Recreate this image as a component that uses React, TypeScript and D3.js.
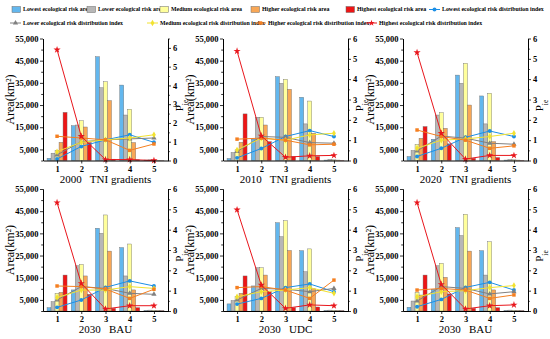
import React, { useEffect, useRef } from 'react';
import * as d3 from 'd3';

const FONT = '"Liberation Serif", "Times New Roman", serif';

// TNI gradients on x
const gradients = [1, 2, 3, 4, 5];
const riskLevels = ['Lowest', 'Lower', 'Medium', 'Higher', 'Highest'];
const barColors = ['#63b7ee', '#b7b7b7', '#ffff9c', '#f8a756', '#ee1515'];
const lineColors = ['#1c8fe6', '#808080', '#f2e230', '#f57f20', '#e8161c'];
const areaTicks = [5000, 15000, 25000, 35000, 45000, 55000];
const areaMinorTicks = [0, 10000, 20000, 30000, 40000, 50000];

// area (km2), one row per risk level, one column per gradient
const area2000 = [
  [1000, 15700, 46800, 34000, 200],
  [3300, 16000, 32800, 20500, 300],
  [4500, 18000, 35500, 23100, 200],
  [8200, 15100, 27000, 8100, 100],
  [21700, 8100, 600, 300, 50],
];
const index2000 = [
  [0.08, 0.75, 1.1, 1.37, 0.97],
  [0.3, 1.0, 1.1, 1.15, 1.2],
  [0.47, 0.97, 1.1, 1.2, 1.37],
  [1.29, 1.2, 1.1, 0.54, 0.88],
  [5.9, 1.29, 0.05, 0.05, 0.0],
];

const area2010 = [
  [900, 9600, 37800, 28500, 200],
  [3600, 19500, 34800, 16500, 500],
  [4800, 19500, 36600, 26800, 300],
  [8200, 16000, 32100, 12300, 200],
  [21000, 8500, 1800, 1800, 100],
];
const index2010 = [
  [0.13, 0.59, 1.18, 1.47, 1.18],
  [0.44, 1.18, 1.14, 0.88, 0.85],
  [0.52, 1.1, 1.0, 1.26, 1.34],
  [1.05, 1.1, 1.0, 0.77, 0.8],
  [5.38, 1.21, 0.16, 0.23, 0.25],
];

const area2020 = [
  [1800, 9600, 38500, 29100, 200],
  [4500, 20500, 34800, 16500, 400],
  [7300, 21600, 43800, 30300, 300],
  [10000, 14500, 25000, 8500, 200],
  [15300, 7500, 1000, 1350, 100],
];
const index2020 = [
  [0.2, 0.6, 1.14, 1.45, 1.18],
  [0.47, 1.2, 1.1, 0.85, 0.8],
  [0.6, 1.0, 1.06, 1.18, 1.34],
  [1.5, 1.18, 1.0, 0.6, 0.72],
  [5.31, 1.34, 0.07, 0.25, 0.25],
];

const area2030BAU = [
  [1500, 9500, 37300, 28600, 200],
  [4200, 20400, 35000, 15800, 400],
  [8000, 21000, 43300, 30200, 300],
  [8400, 15800, 27000, 9500, 200],
  [16200, 7500, 1200, 1500, 100],
];
const index2030BAU = [
  [0.18, 0.54, 1.16, 1.48, 1.23],
  [0.54, 1.2, 1.11, 0.87, 0.82],
  [0.66, 1.03, 1.03, 1.2, 1.11],
  [1.23, 1.2, 1.08, 0.62, 1.07],
  [5.33, 1.36, 0.1, 0.26, 0.26],
];

const area2030UDC = [
  [3200, 11300, 39800, 27200, 200],
  [4700, 19500, 33500, 17700, 400],
  [6500, 19500, 40700, 28000, 300],
  [8000, 16200, 27300, 10000, 200],
  [15800, 8700, 1500, 1800, 100],
];
const index2030UDC = [
  [0.34, 0.62, 1.15, 1.33, 0.95],
  [0.54, 1.11, 1.07, 0.95, 1.11],
  [0.7, 0.95, 1.03, 1.15, 0.87],
  [1.15, 1.2, 1.03, 0.62, 1.52],
  [4.98, 1.28, 0.13, 0.3, 0.26],
];

const area2030BAU2 = [
  [1700, 9800, 37600, 27200, 200],
  [4500, 20400, 34000, 16200, 400],
  [8400, 21500, 43600, 31200, 300],
  [7200, 15200, 27000, 9500, 200],
  [16200, 7700, 1200, 1500, 100],
];
const index2030BAU2 = [
  [0.21, 0.57, 1.16, 1.41, 1.03],
  [0.49, 1.2, 1.11, 0.84, 0.95],
  [0.7, 0.95, 1.0, 1.15, 1.25],
  [1.03, 1.11, 1.03, 0.62, 0.79],
  [5.33, 1.31, 0.1, 0.26, 0.3],
];

const panelTitles = ['2000   TNI gradients', '2010   TNI gradients', '2020   TNI gradients', '2030   BAU', '2030   UDC', '2030   BAU'];
const panelAreas = [area2000, area2010, area2020, area2030BAU, area2030UDC, area2030BAU2];
const panelIndexes = [index2000, index2010, index2020, index2030BAU, index2030UDC, index2030BAU2];
const panelPMax = [6.5, 6, 6, 6, 6, 6];

const W = 125;
const H = 122;
const colLeft = [43, 223, 403];
const rowTop = [38.5, 189];

const symbols = [d3.symbolCircle, d3.symbolTriangle, d3.symbolDiamond, d3.symbolSquare, d3.symbolStar];

function Panel({ left, top, areas, idx, title, pMax }) {
  const xRef = useRef(null);
  const lRef = useRef(null);
  const lMinRef = useRef(null);
  const rRef = useRef(null);
  const rMinRef = useRef(null);

  const x = d3.scaleLinear().domain([0.42, 5.58]).range([0, W]);
  const yA = d3.scaleLinear().domain([0, 55000]).range([H, 0]);
  const yP = d3.scaleLinear().domain([0, pMax]).range([H, 0]);
  const sub = d3.scaleBand().domain(d3.range(5)).range([-10, 10]);
  const line = d3.line().x((_, i) => x(gradients[i])).y((d) => yP(d));

  useEffect(() => {
    const style = (g) => {
      g.attr('font-family', FONT).attr('font-size', 8.5).attr('font-weight', 'bold');
      g.select('.domain').attr('stroke-width', 1);
      g.selectAll('.tick line').attr('stroke-width', 0.8);
      g.selectAll('.tick text').attr('fill', '#000');
    };
    d3.select(xRef.current)
      .call(d3.axisBottom(x).tickValues(gradients).tickSize(3).tickSizeOuter(0).tickPadding(2).tickFormat(d3.format('d')))
      .call(style);
    d3.select(lRef.current)
      .call(d3.axisLeft(yA).tickValues(areaTicks).tickSize(3).tickSizeOuter(0).tickPadding(1.5).tickFormat(d3.format(',')))
      .call(style);
    d3.select(lMinRef.current)
      .call(d3.axisLeft(yA).tickValues(areaMinorTicks).tickSize(1.8).tickSizeOuter(0).tickFormat(() => ''))
      .call(style);
    d3.select(rRef.current)
      .call(d3.axisRight(yP).tickValues(d3.range(0, 7)).tickSize(3).tickSizeOuter(0).tickPadding(2).tickFormat(d3.format('d')))
      .call(style);
    d3.select(rMinRef.current)
      .call(d3.axisRight(yP).tickValues(d3.range(0.5, pMax + 0.01, 1)).tickSize(1.8).tickSizeOuter(0).tickFormat(() => ''))
      .call(style);
  }, [pMax]);

  return (
    <g transform={`translate(${left},${top})`}>
      {areas.map((row, s) =>
        row.map((v, i) => (
          <rect
            key={`b${s}-${i}`}
            x={x(gradients[i]) + sub(s)}
            y={yA(v)}
            width={sub.bandwidth()}
            height={H - yA(v)}
            fill={barColors[s]}
            stroke="#6b6b6b"
            strokeWidth={0.4}
          />
        ))
      )}
      {idx.map((row, s) => (
        <g key={`l${s}`}>
          <path d={line(row)} fill="none" stroke={lineColors[s]} strokeWidth={1} />
          {row.map((v, i) => (
            <path
              key={i}
              transform={`translate(${x(gradients[i])},${yP(v)})`}
              d={d3.symbol().type(symbols[s]).size(s === 4 ? 16 : 12)()}
              fill={lineColors[s]}
            />
          ))}
        </g>
      ))}
      <g ref={xRef} transform={`translate(0,${H})`} />
      <g ref={lMinRef} />
      <g ref={lRef} />
      <g ref={rMinRef} transform={`translate(${W},0)`} />
      <g ref={rRef} transform={`translate(${W},0)`} />
      <text transform={`translate(-33,${H / 2}) rotate(-90)`} textAnchor="middle" dy="0.35em" fontSize={12} fontFamily={FONT}>
        Area(km²)
      </text>
      <text transform={`translate(${W + 12},${H / 2 + 6}) rotate(-90)`} textAnchor="middle" dy="0.3em" fontSize={11} fontFamily={FONT}>
        P<tspan baselineShift="sub" fontSize={7.5}>ie</tspan>
      </text>
      <text x={W / 2} y={H + 22} textAnchor="middle" fontSize={11} fontFamily={FONT} style={{ whiteSpace: 'pre' }}>
        {title}
      </text>
    </g>
  );
}

// legend layout: [kind, level, x]
const legendRow1 = [
  ['bar', 0, 12],
  ['bar', 1, 87],
  ['bar', 2, 160],
  ['bar', 3, 251],
  ['bar', 4, 346],
  ['line', 0, 429],
];
const legendRow2 = [
  ['line', 1, 10],
  ['line', 2, 147],
  ['line', 3, 255],
  ['line', 4, 366],
];

function LegendItem({ kind, level, x, y }) {
  const name = riskLevels[level];
  const label = kind === 'bar' ? `${name} ecological risk area` : `${name} ecological risk distribution index`;
  return (
    <g transform={`translate(${x},${y})`}>
      {kind === 'bar' ? (
        <rect x={0} y={-3} width={8.5} height={6} fill={barColors[level]} stroke="#6b6b6b" strokeWidth={0.5} />
      ) : (
        <g>
          <line x1={0} x2={11} y1={0} y2={0} stroke={lineColors[level]} strokeWidth={1} />
          <path transform="translate(5.5,0)" d={d3.symbol().type(symbols[level]).size(12)()} fill={lineColors[level]} />
        </g>
      )}
      <text x={kind === 'bar' ? 11 : 13} y={0} dy="0.33em" fontSize={5.9} fontWeight="bold" fontFamily={FONT}>
        {label}
      </text>
    </g>
  );
}

export default function App() {
  return (
    <div style={{ position: 'fixed', left: 0, top: 0, background: '#fff' }}>
      <svg width={550} height={339} style={{ display: 'block' }}>
        <rect width={550} height={339} fill="#fff" />
        {legendRow1.map(([k, l, x], i) => (
          <LegendItem key={`r1${i}`} kind={k} level={l} x={x} y={9.5} />
        ))}
        {legendRow2.map(([k, l, x], i) => (
          <LegendItem key={`r2${i}`} kind={k} level={l} x={x} y={23} />
        ))}
        {panelTitles.map((t, i) => (
          <Panel
            key={i}
            left={colLeft[i % 3]}
            top={rowTop[Math.floor(i / 3)]}
            areas={panelAreas[i]}
            idx={panelIndexes[i]}
            title={t}
            pMax={panelPMax[i]}
          />
        ))}
      </svg>
    </div>
  );
}
